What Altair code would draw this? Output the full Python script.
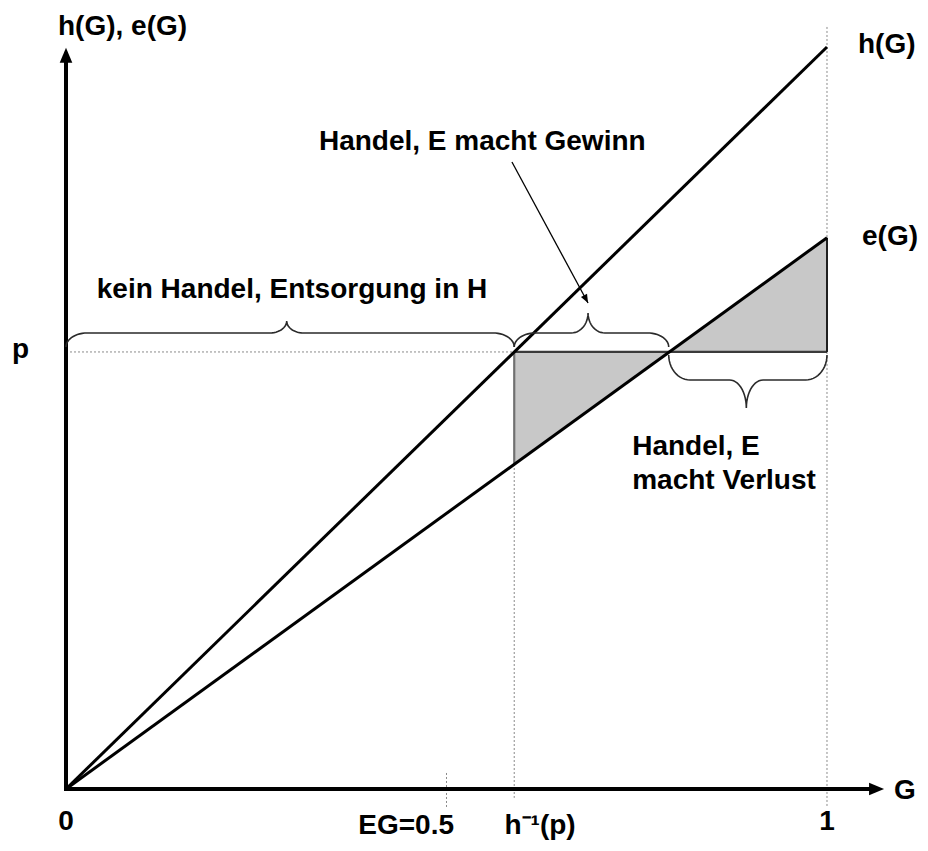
import altair as alt
import pandas as pd
import numpy as np

# ---------------- data ----------------
G_ends = [0.0, 1.0]
h_vals = [0.0, 1.0]          # h(G)
e_vals = [0.0, 0.743]        # e(G)
p_level = 0.589              # p
h_inv_p = 0.589              # h^-1(p)
e_cross = 0.792              # G where e(G) = p
e_at_hinv = 0.438            # e(h^-1(p))
EG = 0.5

shade_G = [h_inv_p, e_cross, 1.0]
shade_e = [e_at_hinv, p_level, 0.743]

# braces: (x1, x2, tip x, y end, y bar, y tip)
brace_x1 = [0.0, h_inv_p, e_cross]
brace_x2 = [h_inv_p, e_cross, 1.0]
brace_xm = [0.29, 0.686, 0.894]
brace_yend = [0.5957, 0.5957, 0.585]
brace_ybar = [0.6146, 0.6146, 0.5512]
brace_ytip = [0.6307, 0.6415, 0.5135]

labels_left = ["h(G), e(G)", "h(G)", "e(G)", "p", "G", "Handel, E", "macht Verlust"]
labels_left_x = [-0.0105, 1.0407, 1.0460, -0.071, 1.0880, 0.744, 0.744]
labels_left_y = [1.0162, 0.9919, 0.7332, 0.5809, -0.0135, 0.450, 0.404]

labels_center = ["kein Handel, Entsorgung in H", "Handel, E macht Gewinn", "0", "1", "EG=0.5", "h\u207b\u00b9(p)"]
labels_center_x = [0.297, 0.547, 0.0, 1.0, 0.447, 0.623]
labels_center_y = [0.6617, 0.861, -0.0552, -0.0552, -0.0606, -0.0606]

arrow_start = (0.586, 0.845)
arrow_end = (0.686, 0.655)

x_axis_end = 1.075
y_axis_end = 0.999

# ---------------- scales ----------------
W, H = 912, 835
xs = alt.Scale(domain=[-0.07622, 1.12221], nice=False, zero=False)
ys = alt.Scale(domain=[-0.07278, 1.05256], nice=False, zero=False)


def X(f="x"):
    return alt.X(f"{f}:Q", scale=xs, axis=None)


def Y(f="y"):
    return alt.Y(f"{f}:Q", scale=ys, axis=None)


def seg_df(rows):
    return pd.DataFrame(rows, columns=["x", "y", "x2", "y2"])


# shaded triangles
area = alt.Chart(pd.DataFrame({"x": shade_G, "y": shade_e, "y2": [p_level] * 3})).mark_area(
    color="#c8c8c8", opacity=1
).encode(x=X(), y=Y(), y2="y2:Q")

# dotted guide lines
dotted = alt.Chart(seg_df([
    (0.0, p_level, h_inv_p, p_level),
    (h_inv_p, e_at_hinv, h_inv_p, -0.012),
    (1.0, 1.027, 1.0, 0.743),
    (1.0, p_level, 1.0, -0.024),
    (EG, 0.0216, EG, -0.0256),
])).mark_rule(color="#8a8a8a", strokeWidth=1, strokeDash=[2, 2]).encode(
    x=X(), y=Y(), x2="x2:Q", y2="y2:Q")

# solid segments around the shading
p_solid = alt.Chart(seg_df([(h_inv_p, p_level, 1.0, p_level)])).mark_rule(
    color="#3a3a3a", strokeWidth=2.2).encode(x=X(), y=Y(), x2="x2:Q", y2="y2:Q")
v_gray = alt.Chart(seg_df([(h_inv_p, p_level, h_inv_p, e_at_hinv)])).mark_rule(
    color="#707070", strokeWidth=2.2).encode(x=X(), y=Y(), x2="x2:Q", y2="y2:Q")
v_right = alt.Chart(seg_df([(1.0, 0.743, 1.0, p_level)])).mark_rule(
    color="#202020", strokeWidth=2).encode(x=X(), y=Y(), x2="x2:Q", y2="y2:Q")

# h(G) and e(G)
curves = alt.Chart(seg_df([
    (G_ends[0], h_vals[0], G_ends[1], h_vals[1]),
    (G_ends[0], e_vals[0], G_ends[1], e_vals[1]),
])).mark_rule(color="black", strokeWidth=3).encode(x=X(), y=Y(), x2="x2:Q", y2="y2:Q")

# axes
axes = alt.Chart(seg_df([
    (0.0, 0.0, x_axis_end - 0.012, 0.0),
    (0.0, 0.0, 0.0, y_axis_end - 0.012),
])).mark_rule(color="black", strokeWidth=4, strokeCap="square").encode(
    x=X(), y=Y(), x2="x2:Q", y2="y2:Q")
arrow_x = alt.Chart(pd.DataFrame({"x": [x_axis_end], "y": [0.0]})).mark_point(
    shape="M0,0L-1,-0.42L-1,0.42Z", filled=True, color="black", opacity=1, size=900
).encode(x=X(), y=Y())
arrow_y = alt.Chart(pd.DataFrame({"x": [0.0], "y": [y_axis_end]})).mark_point(
    shape="M0,0L-0.42,1L0.42,1Z", filled=True, color="black", opacity=1, size=900
).encode(x=X(), y=Y())


# braces
def brace_points(x1, x2, xm, y_end, y_bar, y_tip, r_end=0.028, r_tip=0.022, n=14):
    t = np.linspace(0, np.pi / 2, n)
    t2 = t[::-1]
    xs_, ys_ = [], []
    xs_ += list(x1 + r_end - r_end * np.cos(t)); ys_ += list(y_end + (y_bar - y_end) * np.sin(t))
    xs_ += list(xm - r_tip + r_tip * np.sin(t)); ys_ += list(y_bar + (y_tip - y_bar) * (1 - np.cos(t)))
    xs_ += list(xm + r_tip - r_tip * np.sin(t2)); ys_ += list(y_bar + (y_tip - y_bar) * (1 - np.cos(t2)))
    xs_ += list(x2 - r_end + r_end * np.cos(t2)); ys_ += list(y_end + (y_bar - y_end) * np.sin(t2))
    return xs_, ys_


rows = []
for b in range(3):
    bx, by = brace_points(brace_x1[b], brace_x2[b], brace_xm[b],
                          brace_yend[b], brace_ybar[b], brace_ytip[b])
    for i, (a, c) in enumerate(zip(bx, by)):
        rows.append({"b": b, "i": i, "x": a, "y": c})
braces = alt.Chart(pd.DataFrame(rows)).mark_line(color="#2a2a2a", strokeWidth=1.6).encode(
    x=X(), y=Y(), detail="b:N", order="i:Q")

# annotation arrow
arr_line = alt.Chart(seg_df([(arrow_start[0], arrow_start[1], arrow_end[0], arrow_end[1])])).mark_rule(
    color="black", strokeWidth=1.3).encode(x=X(), y=Y(), x2="x2:Q", y2="y2:Q")
arr_head = alt.Chart(pd.DataFrame({"x": [arrow_end[0]], "y": [arrow_end[1]]})).mark_point(
    shape="M0,0L-1,-0.4L-1,0.4Z", filled=True, color="black", opacity=1, size=300, angle=62
).encode(x=X(), y=Y())

# texts
font = "Liberation Sans"
txt_left = alt.Chart(pd.DataFrame({"t": labels_left, "x": labels_left_x, "y": labels_left_y})).mark_text(
    align="left", baseline="alphabetic", font=font, fontSize=28, fontWeight="bold", color="black"
).encode(x=X(), y=Y(), text="t:N")
txt_center = alt.Chart(pd.DataFrame({"t": labels_center, "x": labels_center_x, "y": labels_center_y})).mark_text(
    align="center", baseline="alphabetic", font=font, fontSize=28, fontWeight="bold", color="black"
).encode(x=X(), y=Y(), text="t:N")

chart = alt.layer(
    area, dotted, p_solid, v_gray, v_right, curves, axes, arrow_x, arrow_y,
    braces, arr_line, arr_head, txt_left, txt_center
).properties(
    width=W, height=H, padding=0, autosize=alt.AutoSizeParams(type="none")
).configure_view(stroke=None)

chart.save("out.html", embed_options={"renderer": "svg", "actions": False})
